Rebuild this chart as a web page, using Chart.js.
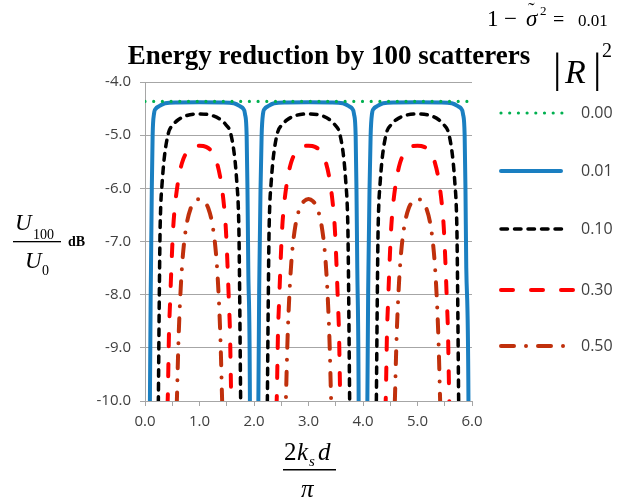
<!DOCTYPE html>
<html>
<head>
<meta charset="utf-8">
<script src="https://cdn.jsdelivr.net/npm/chart.js@4.4.1/dist/chart.umd.min.js"></script>
<style>
  html, body { margin: 0; padding: 0; background: #fff; }
  canvas { display: block; }
</style>
</head>
<body>
<canvas id="chart" width="619" height="502"></canvas>
<script>
// |R|^2 values shown in the legend
const rLabels = ['0.00', '0.01', '0.10', '0.30', '0.50'];

// |R|^2 = 0.00 : no reflection, flat level
const greenX = [0.0, 6.0];
const greenY = [-4.365, -4.365];

// |R|^2 = 0.01
const blueX = [0.00, 0.085, 0.09, 0.11, 0.125, 0.14, 0.165, 0.20, 0.25, 0.37, 0.60, 1.00, 1.40, 1.63, 1.75, 1.80, 1.835, 1.865, 1.88, 1.895, 1.925, 1.93, 2.00,
  2.075, 2.08, 2.10, 2.12, 2.14, 2.165, 2.20, 2.25, 2.37, 2.60, 3.00, 3.40, 3.63, 3.75, 3.80, 3.835, 3.865, 3.88, 3.895, 3.92, 3.925, 4.00,
  4.075, 4.08, 4.10, 4.12, 4.14, 4.165, 4.20, 4.25, 4.37, 4.60, 5.00, 5.40, 5.63, 5.75, 5.80, 5.835, 5.865, 5.88, 5.895, 5.935, 5.94, 6.00];
const blueY = [-40, -12, -10, -7.5, -6.0, -5.0, -4.6, -4.5, -4.46, -4.40, -4.385, -4.38, -4.385, -4.40, -4.46, -4.5, -4.6, -5.0, -6.0, -7.5, -10, -12, -40,
  -12, -10, -7.5, -6.0, -5.0, -4.6, -4.5, -4.46, -4.40, -4.385, -4.38, -4.385, -4.40, -4.46, -4.5, -4.6, -5.0, -6.0, -7.5, -10, -12, -40,
  -12, -10, -7.5, -6.0, -5.0, -4.6, -4.5, -4.46, -4.40, -4.385, -4.38, -4.385, -4.40, -4.46, -4.5, -4.6, -5.0, -6.0, -7.5, -10, -12, -40];

// |R|^2 = 0.10
const blackX = [0.00, 0.20, 0.245, 0.26, 0.275, 0.29, 0.31, 0.35, 0.43, 0.52, 0.61, 0.77, 1.00, 1.23, 1.39, 1.48, 1.57, 1.65, 1.69, 1.71, 1.725, 1.74, 1.755, 1.80, 2.00,
  2.20, 2.245, 2.26, 2.275, 2.29, 2.31, 2.35, 2.43, 2.52, 2.61, 2.77, 3.00, 3.23, 3.39, 3.48, 3.57, 3.65, 3.69, 3.71, 3.725, 3.74, 3.755, 3.80, 4.00,
  4.20, 4.245, 4.26, 4.275, 4.29, 4.31, 4.35, 4.43, 4.52, 4.61, 4.77, 5.00, 5.23, 5.39, 5.48, 5.57, 5.65, 5.69, 5.71, 5.725, 5.74, 5.755, 5.80, 6.00];
const blackY = [-40, -14, -10, -8.3, -6.9, -6.3, -5.96, -5.46, -4.96, -4.8, -4.71, -4.63, -4.6, -4.63, -4.71, -4.8, -4.96, -5.46, -5.96, -6.3, -6.9, -8.3, -10, -14, -40,
  -14, -10, -8.3, -6.9, -6.3, -5.96, -5.46, -4.96, -4.8, -4.71, -4.63, -4.6, -4.63, -4.71, -4.8, -4.96, -5.46, -5.96, -6.3, -6.9, -8.3, -10, -14, -40,
  -14, -10, -8.3, -6.9, -6.3, -5.96, -5.46, -4.96, -4.8, -4.71, -4.63, -4.6, -4.63, -4.71, -4.8, -4.96, -5.46, -5.96, -6.3, -6.9, -8.3, -10, -14, -40];

// |R|^2 = 0.30
const redX = [0.00, 0.36, 0.40, 0.42, 0.43, 0.44, 0.46, 0.48, 0.50, 0.52, 0.55, 0.61, 0.68, 0.76, 0.88, 1.00, 1.12, 1.24, 1.32, 1.39, 1.45, 1.48, 1.50, 1.52, 1.54, 1.56, 1.57, 1.58, 1.60, 1.64, 2.00,
  2.36, 2.40, 2.42, 2.43, 2.44, 2.46, 2.48, 2.50, 2.52, 2.55, 2.61, 2.68, 2.76, 2.88, 3.00, 3.12, 3.24, 3.32, 3.39, 3.45, 3.48, 3.50, 3.52, 3.54, 3.56, 3.57, 3.58, 3.60, 3.64, 4.00,
  4.36, 4.40, 4.42, 4.43, 4.44, 4.46, 4.48, 4.50, 4.52, 4.55, 4.61, 4.68, 4.76, 4.88, 5.00, 5.12, 5.24, 5.32, 5.39, 5.45, 5.48, 5.50, 5.52, 5.54, 5.56, 5.57, 5.58, 5.60, 5.64, 6.00];
const redY = [-40, -14, -10.6, -9.85, -9.28, -8.72, -8.15, -7.6, -7.1, -6.7, -6.33, -5.85, -5.52, -5.33, -5.22, -5.2, -5.22, -5.33, -5.52, -5.85, -6.33, -6.7, -7.1, -7.6, -8.15, -8.72, -9.28, -9.85, -10.6, -14, -40,
  -14, -10.6, -9.85, -9.28, -8.72, -8.15, -7.6, -7.1, -6.7, -6.33, -5.85, -5.52, -5.33, -5.22, -5.2, -5.22, -5.33, -5.52, -5.85, -6.33, -6.7, -7.1, -7.6, -8.15, -8.72, -9.28, -9.85, -10.6, -14, -40,
  -14, -10.6, -9.85, -9.28, -8.72, -8.15, -7.6, -7.1, -6.7, -6.33, -5.85, -5.52, -5.33, -5.22, -5.2, -5.22, -5.33, -5.52, -5.85, -6.33, -6.7, -7.1, -7.6, -8.15, -8.72, -9.28, -9.85, -10.6, -14, -40];

// |R|^2 = 0.50
const darkRedX = [0.00, 0.50, 0.57, 0.59, 0.605, 0.62, 0.64, 0.665, 0.70, 0.76, 0.84, 0.92, 1.00, 1.08, 1.16, 1.24, 1.30, 1.335, 1.36, 1.38, 1.395, 1.41, 1.43, 1.50, 2.00,
  2.50, 2.57, 2.59, 2.605, 2.62, 2.64, 2.665, 2.70, 2.76, 2.84, 2.92, 3.00, 3.08, 3.16, 3.24, 3.30, 3.335, 3.36, 3.38, 3.395, 3.41, 3.43, 3.50, 4.00,
  4.50, 4.57, 4.59, 4.605, 4.62, 4.64, 4.665, 4.70, 4.76, 4.84, 4.92, 5.00, 5.08, 5.16, 5.24, 5.30, 5.335, 5.36, 5.38, 5.395, 5.41, 5.43, 5.50, 6.00];
const darkRedY = [-40, -16, -10.6, -9.8, -9.2, -8.7, -8.2, -7.7, -7.2, -6.7, -6.37, -6.24, -6.2, -6.24, -6.37, -6.7, -7.2, -7.7, -8.2, -8.7, -9.2, -9.8, -10.6, -16, -40,
  -16, -10.6, -9.8, -9.2, -8.7, -8.2, -7.7, -7.2, -6.7, -6.37, -6.24, -6.2, -6.24, -6.37, -6.7, -7.2, -7.7, -8.2, -8.7, -9.2, -9.8, -10.6, -16, -40,
  -16, -10.6, -9.8, -9.2, -8.7, -8.2, -7.7, -7.2, -6.7, -6.37, -6.24, -6.2, -6.24, -6.37, -6.7, -7.2, -7.7, -8.2, -8.7, -9.2, -9.8, -10.6, -16, -40];

const pts = (xs, ys) => xs.map((x, i) => ({ x, y: ys[i] }));

const series = [
  { label: rLabels[0], data: pts(greenX, greenY), borderColor: '#00b050', borderWidth: 3.2, borderDash: [0, 8.7], borderCapStyle: 'round', legendLen: 63 },
  { label: rLabels[1], data: pts(blueX, blueY), borderColor: '#1a7fc1', borderWidth: 4, borderDash: [], borderCapStyle: 'round', legendLen: 60 },
  { label: rLabels[2], data: pts(blackX, blackY), borderColor: '#000000', borderWidth: 3.5, borderDash: [6.5, 7], borderCapStyle: 'round', legendLen: 63 },
  { label: rLabels[3], data: pts(redX, redY), borderColor: '#ff0000', borderWidth: 4, borderDash: [12, 18], borderCapStyle: 'round', legendLen: 75 },
  { label: rLabels[4], data: pts(darkRedX, darkRedY), borderColor: '#c0300c', borderWidth: 4, borderDash: [13, 12, 0, 12], borderCapStyle: 'round', legendLen: 66 },
];

const legendY = [113, 171, 229, 290, 346];

const overlay = {
  id: 'overlay',
  afterDraw(chart) {
    const ctx = chart.ctx;
    ctx.save();
    ctx.fillStyle = '#000';
    ctx.textBaseline = 'alphabetic';

    // title
    ctx.textAlign = 'center';
    ctx.font = 'bold 27px "Liberation Serif"';
    ctx.fillText('Energy reduction by 100 scatterers', 329, 64);

    // top right note: 1 - sigma~^2 = 0.01
    ctx.textAlign = 'left';
    ctx.font = '23px "Liberation Serif"';
    ctx.fillText('1', 487, 26);
    ctx.fillText('\u2212', 504, 26);
    ctx.font = 'italic 23px "Liberation Serif"';
    ctx.fillText('\u03c3', 526, 26);
    ctx.font = '20px "Liberation Serif"';
    ctx.fillText('\u02dc', 528, 17);
    ctx.font = '13px "Liberation Serif"';
    ctx.fillText('2', 540, 15);
    ctx.font = '20px "Liberation Serif"';
    ctx.fillText('=', 553, 26);
    ctx.font = '17px "Liberation Serif"';
    ctx.fillText('0.01', 578, 26);

    // |R|^2 legend heading
    ctx.font = '42px "Liberation Serif"';
    ctx.fillText('|', 553, 82);
    ctx.fillText('|', 593, 82);
    ctx.font = 'italic 34px "Liberation Serif"';
    ctx.fillText('R', 565, 83);
    ctx.font = '20px "Liberation Serif"';
    ctx.fillText('2', 602, 57);

    // y axis title: U100 / U0 dB
    ctx.font = 'italic 23px "Liberation Serif"';
    ctx.fillText('U', 15, 230);
    ctx.fillText('U', 25, 268);
    ctx.font = '14px "Liberation Serif"';
    ctx.fillText('100', 33, 239);
    ctx.fillText('0', 42, 275);
    ctx.font = 'bold 14px "Liberation Serif"';
    ctx.fillText('dB', 68, 246);
    ctx.fillRect(13, 241, 48, 1.3);

    // x axis title: 2 k_s d / pi
    ctx.font = '25px "Liberation Serif"';
    ctx.fillText('2', 284, 460);
    ctx.font = 'italic 25px "Liberation Serif"';
    ctx.fillText('k', 297, 460);
    ctx.fillText('d', 318, 460);
    ctx.fillText('\u03c0', 301, 497);
    ctx.font = 'italic 15px "Liberation Serif"';
    ctx.fillText('s', 309, 466);
    ctx.fillRect(283, 469, 53, 1.5);

    // legend
    chart.data.datasets.forEach((ds, i) => {
      const y = legendY[i];
      ctx.beginPath();
      ctx.setLineDash(ds.borderDash);
      ctx.lineCap = ds.borderCapStyle;
      ctx.lineWidth = ds.borderWidth;
      ctx.strokeStyle = ds.borderColor;
      ctx.moveTo(501, y);
      ctx.lineTo(501 + ds.legendLen, y);
      ctx.stroke();
      ctx.setLineDash([]);
      ctx.fillStyle = '#404040';
      ctx.font = '16px "Open Sans"';
      ctx.textBaseline = 'middle';
      ctx.fillText(ds.label, 581, y);
    });
    ctx.restore();
  }
};

new Chart(document.getElementById('chart'), {
  type: 'scatter',
  data: {
    datasets: series.map(s => ({
      ...s,
      showLine: true,
      pointRadius: 0,
      cubicInterpolationMode: 'monotone',
      clip: 0,
    }))
  },
  options: {
    responsive: false,
    animation: false,
    layout: { padding: { left: 0, right: 147, top: 82, bottom: 0 } },
    plugins: { legend: { display: false }, tooltip: { enabled: false } },
    scales: {
      x: {
        type: 'linear',
        min: 0,
        max: 6,
        afterFit: s => { s.height = 101; },
        ticks: {
          stepSize: 0.5,
          autoSkip: false,
          maxRotation: 0,
          padding: 7,
          color: '#404040',
          font: { family: 'Open Sans', size: 15 },
          callback: v => Math.abs(v - Math.round(v)) < 1e-6 ? v.toFixed(1) : ''
        },
        grid: { drawOnChartArea: false, tickLength: 5, color: '#a6a6a6' },
        border: { color: '#a6a6a6' }
      },
      y: {
        min: -10,
        max: -4,
        afterFit: s => { s.width = 145; },
        ticks: {
          stepSize: 1,
          padding: 9,
          color: '#404040',
          font: { family: 'Open Sans', size: 15 },
          callback: v => v.toFixed(1)
        },
        grid: { color: '#a6a6a6', tickLength: 5 },
        border: { color: '#a6a6a6' }
      }
    }
  },
  plugins: [overlay]
});
</script>
</body>
</html>
